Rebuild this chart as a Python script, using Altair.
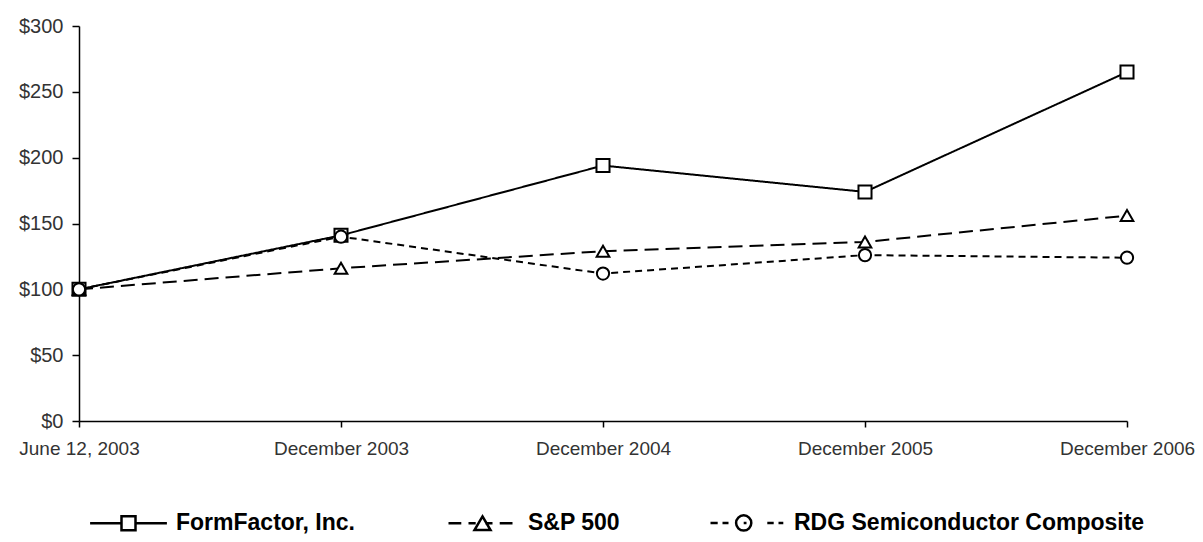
import altair as alt
import pandas as pd

periods = ["June 12, 2003", "December 2003", "December 2004", "December 2005", "December 2006"]
series = ["FormFactor, Inc.", "S&P 500", "RDG Semiconductor Composite"]
formfactor = [100, 141, 194, 174, 265]
sp500 = [100, 116, 129, 136, 156]
rdg = [100, 140, 112, 126, 124]

rows = []
for name, vals in zip(series, [formfactor, sp500, rdg]):
    for p, v in zip(periods, vals):
        rows.append({"period": p, "series": name, "value": v})
df = pd.DataFrame(rows)

font = "Liberation Sans"

x_enc = alt.X("period:N", sort=periods, scale=alt.Scale(type="point", padding=0),
              axis=alt.Axis(title=None, labelAngle=0, labelFontSize=19, labelFont=font,
                            labelColor="#333333", tickSize=6, tickColor="black",
                            domainColor="black", domainWidth=1.5, tickWidth=1.5,
                            labelPadding=12, grid=False))
y_enc = alt.Y("value:Q", scale=alt.Scale(domain=[0, 300], nice=False),
              axis=alt.Axis(title=None, values=[0, 50, 100, 150, 200, 250, 300], format="$.0f",
                            labelFontSize=20, labelFont=font, labelColor="#333333",
                            tickSize=7, tickColor="black", domainColor="black",
                            domainWidth=1.5, tickWidth=1.5, labelPadding=9, grid=False))

lines = alt.Chart(df).mark_line(color="black", strokeWidth=2).encode(
    x=x_enc, y=y_enc,
    strokeDash=alt.StrokeDash("series:N", sort=series,
                              scale=alt.Scale(domain=series, range=[[1, 0], [14, 7], [7, 5]]),
                              legend=None),
    order=alt.Order("period_idx:Q"),
).transform_calculate(period_idx="indexof(" + str(periods) + ", datum.period)")

points = alt.Chart(df).mark_point(filled=False, stroke="black", fill="white", fillOpacity=1,
                                  strokeWidth=2, opacity=1).encode(
    x=alt.X("period:N", sort=periods),
    y="value:Q",
    shape=alt.Shape("series:N", sort=series,
                    scale=alt.Scale(domain=series, range=["square", "triangle-up", "circle"]),
                    legend=None),
    size=alt.Size("series:N", scale=alt.Scale(domain=series, range=[170, 150, 170]), legend=None),
)

legend_paths = [
    "M-0.96,0H-0.175M0.175,0H0.96M-0.175,-0.175H0.175V0.175H-0.175Z",
    "M-0.8,0H-0.48M0.48,0H0.8M-0.3,0H-0.12M0.12,0H0.3M0.05,-0.17L0.25,0.17H-0.15Z",
    "M-0.9,0H-0.72M-0.6,0H-0.45M0.52,0H0.68M0.8,0H0.92M-0.07,0H0.0M0.12,0A0.19,0.19 0 1,1 -0.26,0A0.19,0.19 0 1,1 0.12,0",
]

legend_layer = alt.Chart(df).mark_point(filled=False, stroke="black", strokeWidth=2).encode(
    x=alt.X("period:N", sort=periods),
    y="value:Q",
    shape=alt.Shape("series:N", sort=series,
                    scale=alt.Scale(domain=series, range=legend_paths),
                    legend=alt.Legend(title=None, orient="none", direction="horizontal",
                                      legendX=8, legendY=455, symbolSize=6400,
                                      symbolStrokeColor="black", symbolFillColor="transparent",
                                      symbolStrokeWidth=2.5, symbolOpacity=1,
                                      labelFont=font, labelFontSize=23,
                                      labelFontWeight="bold", labelColor="black",
                                      labelOffset=6, columnPadding=84, padding=0,
                                      labelLimit=500)),
).transform_filter("false")

chart = alt.layer(lines, points, legend_layer).resolve_scale(
    shape="independent", size="independent", strokeDash="independent"
).properties(
    width=1048, height=395,
    padding={"left": 71, "top": 18, "right": 68, "bottom": 113},
    autosize=alt.AutoSizeParams(type="none"),
    background="white",
).configure_view(strokeOpacity=0, strokeWidth=0)

chart.save("out.html", embed_options={"renderer": "svg", "actions": False})
